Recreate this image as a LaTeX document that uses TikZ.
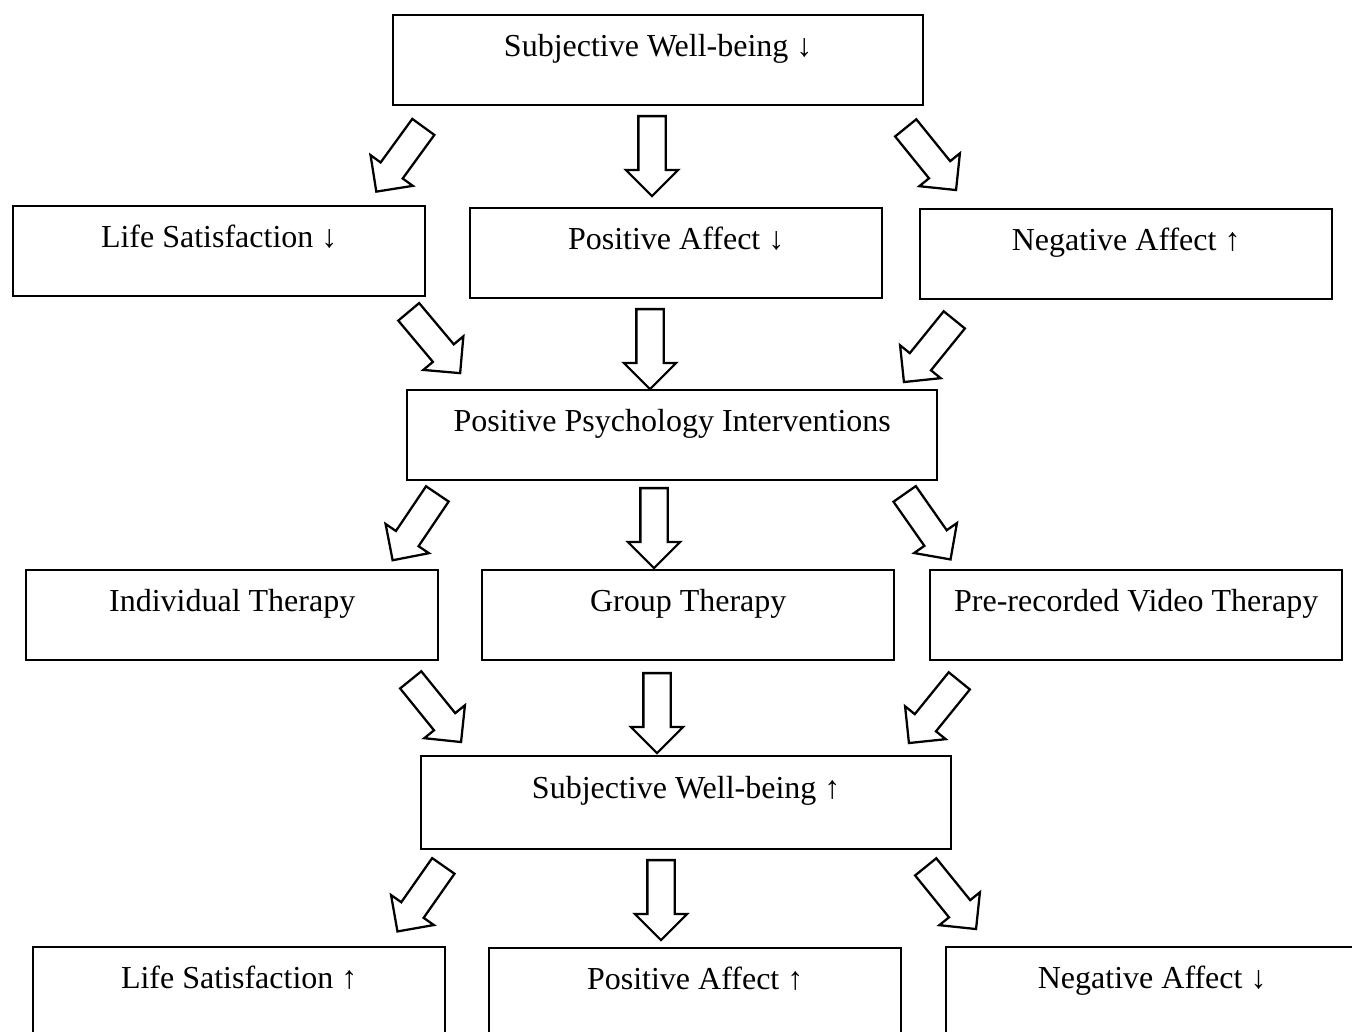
\documentclass[tikz,border=0pt]{standalone}
\usepackage{fontspec}
\setmainfont{Liberation Serif}
\usepackage{tikz}
\usetikzlibrary{shapes.arrows}
\newcommand{\pxu}{0.375pt}
\tikzset{flow-box/.style={draw, line width=0.9pt, anchor=north west, inner sep=0pt,
    minimum width=412*\pxu, minimum height=90*\pxu, text height=8pt, text depth=11pt}}
\tikzset{flow-wide/.style={flow-box, minimum width=530*\pxu}}
\tikzset{flow-arrow/.style={draw, line width=0.85pt, single arrow, anchor=tail,
    inner xsep=0pt, inner ysep=12.5*\pxu, single arrow head extend=12.5*\pxu,
    minimum height=80*\pxu, minimum width=50*\pxu}}

\begin{document}
\begin{tikzpicture}[x=\pxu, y=-\pxu, font=\fontsize{12}{14}\selectfont]
    \clip (0,0) rectangle (1352,1032);

    % boxes
    \node [flow-wide] (swb-low) at (392, 14) {Subjective Well-being ↓};
    \node [flow-box] (ls-low) at ( 12,205) {Life Satisfaction ↓};
    \node [flow-box] (pa-low) at (469,207) {Positive Affect ↓};
    \node [flow-box] (na-high) at (919,208) {Negative Affect ↑};
    \node [flow-wide] (ppi) at (406,389) {Positive Psychology Interventions};
    \node [flow-box] (individual) at ( 25,569) {Individual Therapy};
    \node [flow-box] (group) at (481,569) {Group Therapy};
    \node [flow-box] (video) at (929,569) {Pre-recorded Video Therapy};
    \node [flow-wide, minimum height=93*\pxu] (swb-high) at (420,755) {Subjective Well-being ↑};
    \node [flow-box] (ls-high) at ( 32,946) {Life Satisfaction ↑};
    \node [flow-box] (pa-high) at (488,947) {Positive Affect ↑};
    \node [flow-box] (na-low) at (945,946) {Negative Affect ↓};

    % hollow arrows
    \node [flow-arrow, rotate=-126] (swb-ls) at (424,126) {};
    \node [flow-arrow, rotate=-90]  (swb-pa) at (652,115) {};
    \node [flow-arrow, rotate=-51]  (swb-na) at (905,127) {};

    \node [flow-arrow, rotate=-50]  (ls-ppi) at (408,311) {};
    \node [flow-arrow, rotate=-90]  (pa-ppi) at (650,308) {};
    \node [flow-arrow, rotate=-129] (na-ppi) at (955,319) {};

    \node [flow-arrow, rotate=-124] (ppi-ind) at (438,493) {};
    \node [flow-arrow, rotate=-90]  (ppi-grp) at (654,487) {};
    \node [flow-arrow, rotate=-55]  (ppi-vid) at (904,493) {};

    \node [flow-arrow, rotate=-51]  (ind-swb) at (410,679) {};
    \node [flow-arrow, rotate=-90]  (grp-swb) at (657,672) {};
    \node [flow-arrow, rotate=-129] (vid-swb) at (960,680) {};

    \node [flow-arrow, rotate=-125] (swb-ls2) at (444,865) {};
    \node [flow-arrow, rotate=-90]  (swb-pa2) at (661,859) {};
    \node [flow-arrow, rotate=-51]  (swb-na2) at (925,866) {};
\end{tikzpicture}
\end{document}
